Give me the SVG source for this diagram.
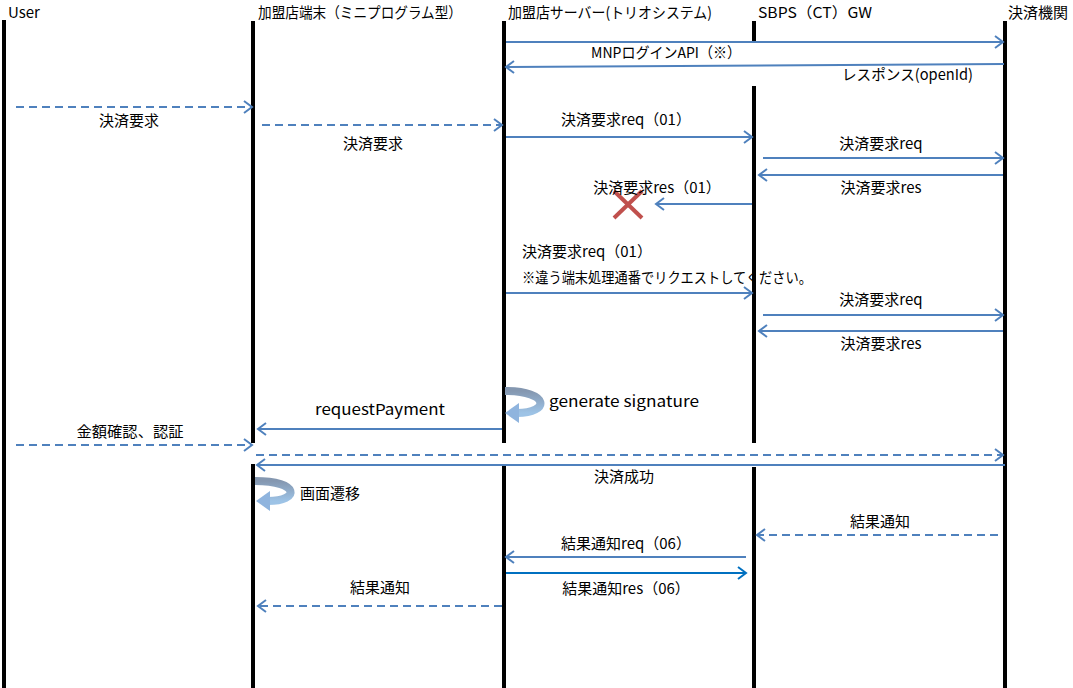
<svg xmlns="http://www.w3.org/2000/svg" width="1073" height="688" viewBox="0 0 1073 688">
<style>
text{font-family:"Noto Sans CJK JP","Noto Sans",sans-serif;font-size:15px;fill:#000}
.h{font-size:15px}
.c{text-anchor:middle}
.life{stroke:#000;stroke-width:4;fill:none}
.m{stroke:#4F81BD;stroke-width:2;fill:none;marker-end:url(#ah)}
.d{stroke-dasharray:8 5}
.dk{stroke:#0070C0;marker-end:url(#ahd)}
.loop{fill:none;stroke:url(#lg);stroke-width:8}
</style>
<defs>
<marker id="ah" markerUnits="userSpaceOnUse" markerWidth="12" markerHeight="16" viewBox="0 0 12 16" refX="10" refY="8" orient="auto">
<path d="M2,2 L10,8 L2,14" fill="none" stroke="#4F81BD" stroke-width="2"/>
</marker>
<marker id="ahd" markerUnits="userSpaceOnUse" markerWidth="12" markerHeight="16" viewBox="0 0 12 16" refX="10" refY="8" orient="auto">
<path d="M2,2 L10,8 L2,14" fill="none" stroke="#0070C0" stroke-width="2"/>
</marker>
<linearGradient id="lg" x1="0" y1="0" x2="0" y2="1">
<stop offset="0" stop-color="#8497B0"/>
<stop offset="1" stop-color="#9DC3E6"/>
</linearGradient>
</defs>

<g id="lifelines">
<g id="user"><text class="h" x="8" y="18">User</text><line class="life" x1="4" y1="20" x2="4" y2="688"/></g>
<g id="terminal"><text class="h" x="258" y="18" textLength="204" lengthAdjust="spacingAndGlyphs">加盟店端末（ミニプログラム型）</text><line class="life" x1="253" y1="21" x2="253" y2="443"/><line class="life" x1="253" y1="464" x2="253" y2="688"/></g>
<g id="server"><text class="h" x="508" y="18" textLength="204" lengthAdjust="spacingAndGlyphs">加盟店サーバー(トリオシステム)</text><line class="life" x1="504" y1="21" x2="504" y2="443"/><line class="life" x1="504" y1="465" x2="504" y2="688"/></g>
<g id="gw"><text class="h" x="758" y="18" textLength="114" lengthAdjust="spacingAndGlyphs">SBPS（CT）GW</text><line class="life" x1="754" y1="21" x2="754" y2="41"/><line class="life" x1="754" y1="86" x2="754" y2="443"/><line class="life" x1="754" y1="467" x2="754" y2="688"/></g>
<g id="payment"><text class="h" x="1008" y="18">決済機関</text><line class="life" x1="1005" y1="21" x2="1005" y2="688"/></g>
</g>

<g id="connectors">
<line class="m" x1="506" y1="42" x2="1003" y2="42"/>
<line class="m" x1="1004" y1="64" x2="506" y2="67"/>
<line class="m d" x1="16" y1="107" x2="252" y2="107"/>
<line class="m d" x1="262" y1="125" x2="502" y2="125"/>
<line class="m" x1="506" y1="137" x2="752" y2="137"/>
<line class="m" x1="763" y1="158" x2="1003" y2="158"/>
<line class="m" x1="1003" y1="175" x2="759" y2="175"/>
<line class="m" x1="752" y1="204" x2="656" y2="204"/>
<line class="m" x1="506" y1="293" x2="752" y2="293"/>
<line class="m" x1="763" y1="315" x2="1003" y2="315"/>
<line class="m" x1="1003" y1="331" x2="759" y2="331"/>
<line class="m" x1="502" y1="429" x2="258" y2="429"/>
<line class="m d" x1="16" y1="445" x2="252" y2="445"/>
<line class="m d" x1="256" y1="455" x2="1003" y2="455"/>
<line class="m" x1="1005" y1="465" x2="257" y2="465"/>
<line class="m d" x1="998" y1="535" x2="757" y2="535"/>
<line class="m" x1="746" y1="557" x2="506" y2="557"/>
<line class="m dk" x1="506" y1="573" x2="746" y2="573"/>
<line class="m d" x1="502" y1="606" x2="258" y2="606"/>
<g id="loop-signature">
<path class="loop" d="M505,391 C550,391 550,413 517,413"/>
<polygon points="505,413 519,403 519,423" fill="#8FB4DE"/>
</g>
<g id="loop-screen">
<path class="loop" d="M255,481 C300,481 300,501 268,501"/>
<polygon points="256,501 270,491 270,511" fill="#8FB4DE"/>
</g>
<g id="cross" stroke="#C0504D" stroke-width="4">
<line x1="614" y1="191" x2="642" y2="218"/>
<line x1="642" y1="191" x2="614" y2="218"/>
</g>
</g>

<g id="labels">
<text x="591" y="58" textLength="150" lengthAdjust="spacingAndGlyphs">MNPログインAPI（※）</text>
<text x="842" y="80" textLength="131" lengthAdjust="spacingAndGlyphs">レスポンス(openId)</text>
<text class="c" x="129" y="126">決済要求</text>
<text class="c" x="373" y="149">決済要求</text>
<text class="c" x="626" y="125">決済要求req（01）</text>
<text class="c" x="881" y="149">決済要求req</text>
<text class="c" x="881" y="193">決済要求res</text>
<text class="c" x="657" y="193">決済要求res（01）</text>
<text x="522" y="257">決済要求req（01）</text>
<text x="522" y="283" textLength="290" lengthAdjust="spacingAndGlyphs">※違う端末処理通番でリクエストしてください。</text>
<text class="c" x="881" y="305">決済要求req</text>
<text class="c" x="881" y="349">決済要求res</text>
<text x="549" y="407" textLength="150" lengthAdjust="spacingAndGlyphs">generate signature</text>
<text class="c" x="380" y="415" textLength="130" lengthAdjust="spacingAndGlyphs">requestPayment</text>
<text class="c" x="130" y="437" textLength="107" lengthAdjust="spacingAndGlyphs">金額確認、認証</text>
<text class="c" x="624" y="482">決済成功</text>
<text x="300" y="499">画面遷移</text>
<text class="c" x="880" y="527">結果通知</text>
<text class="c" x="626" y="549">結果通知req（06）</text>
<text class="c" x="626" y="594">結果通知res（06）</text>
<text class="c" x="380" y="593">結果通知</text>
</g>
</svg>
